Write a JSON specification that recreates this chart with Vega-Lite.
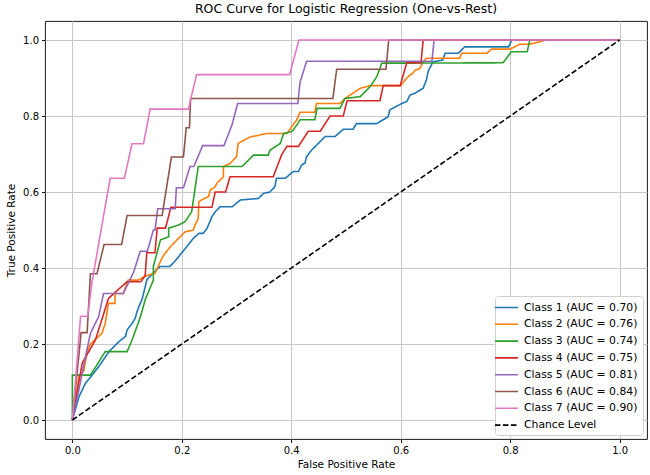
{
  "$schema": "https://vega.github.io/schema/vega-lite/v6.json",
  "width": 602,
  "height": 418,
  "autosize": "none",
  "padding": {"left": 45, "top": 21, "right": 3, "bottom": 36},
  "title": {
    "text": "ROC Curve for Logistic Regression (One-vs-Rest)",
    "font": "DejaVu Sans",
    "fontSize": 12.5,
    "fontWeight": "normal",
    "color": "#000000",
    "offset": 6
  },
  "datasets": {
    "classes": [
      {"k": 1, "label": "Class 1 (AUC = 0.70)"},
      {"k": 2, "label": "Class 2 (AUC = 0.76)"},
      {"k": 3, "label": "Class 3 (AUC = 0.74)"},
      {"k": 4, "label": "Class 4 (AUC = 0.75)"},
      {"k": 5, "label": "Class 5 (AUC = 0.81)"},
      {"k": 6, "label": "Class 6 (AUC = 0.84)"},
      {"k": 7, "label": "Class 7 (AUC = 0.90)"},
      {"k": 8, "label": "Chance Level"}
    ]
  },
  "data": {
    "values": [
      {"k": 1, "i": 0, "fpr": 0, "tpr": 0},
      {"k": 1, "i": 1, "fpr": 0.012, "tpr": 0.061},
      {"k": 1, "i": 2, "fpr": 0.024, "tpr": 0.097},
      {"k": 1, "i": 3, "fpr": 0.036, "tpr": 0.118},
      {"k": 1, "i": 4, "fpr": 0.048, "tpr": 0.14},
      {"k": 1, "i": 5, "fpr": 0.067, "tpr": 0.18},
      {"k": 1, "i": 6, "fpr": 0.085, "tpr": 0.206},
      {"k": 1, "i": 7, "fpr": 0.097, "tpr": 0.22},
      {"k": 1, "i": 8, "fpr": 0.1, "tpr": 0.237},
      {"k": 1, "i": 9, "fpr": 0.109, "tpr": 0.254},
      {"k": 1, "i": 10, "fpr": 0.115, "tpr": 0.268},
      {"k": 1, "i": 11, "fpr": 0.118, "tpr": 0.285},
      {"k": 1, "i": 12, "fpr": 0.124, "tpr": 0.307},
      {"k": 1, "i": 13, "fpr": 0.127, "tpr": 0.316},
      {"k": 1, "i": 14, "fpr": 0.133, "tpr": 0.35},
      {"k": 1, "i": 15, "fpr": 0.136, "tpr": 0.368},
      {"k": 1, "i": 16, "fpr": 0.139, "tpr": 0.374},
      {"k": 1, "i": 17, "fpr": 0.16, "tpr": 0.404},
      {"k": 1, "i": 18, "fpr": 0.178, "tpr": 0.404},
      {"k": 1, "i": 19, "fpr": 0.187, "tpr": 0.417},
      {"k": 1, "i": 20, "fpr": 0.209, "tpr": 0.456},
      {"k": 1, "i": 21, "fpr": 0.221, "tpr": 0.478},
      {"k": 1, "i": 22, "fpr": 0.231, "tpr": 0.491},
      {"k": 1, "i": 23, "fpr": 0.239, "tpr": 0.491},
      {"k": 1, "i": 24, "fpr": 0.246, "tpr": 0.504},
      {"k": 1, "i": 25, "fpr": 0.255, "tpr": 0.535},
      {"k": 1, "i": 26, "fpr": 0.261, "tpr": 0.548},
      {"k": 1, "i": 27, "fpr": 0.27, "tpr": 0.561},
      {"k": 1, "i": 28, "fpr": 0.292, "tpr": 0.561},
      {"k": 1, "i": 29, "fpr": 0.307, "tpr": 0.579},
      {"k": 1, "i": 30, "fpr": 0.34, "tpr": 0.583},
      {"k": 1, "i": 31, "fpr": 0.349, "tpr": 0.596},
      {"k": 1, "i": 32, "fpr": 0.361, "tpr": 0.6},
      {"k": 1, "i": 33, "fpr": 0.37, "tpr": 0.614},
      {"k": 1, "i": 34, "fpr": 0.373, "tpr": 0.636},
      {"k": 1, "i": 35, "fpr": 0.389, "tpr": 0.636},
      {"k": 1, "i": 36, "fpr": 0.404, "tpr": 0.654},
      {"k": 1, "i": 37, "fpr": 0.413, "tpr": 0.654},
      {"k": 1, "i": 38, "fpr": 0.419, "tpr": 0.671},
      {"k": 1, "i": 39, "fpr": 0.425, "tpr": 0.676},
      {"k": 1, "i": 40, "fpr": 0.428, "tpr": 0.693},
      {"k": 1, "i": 41, "fpr": 0.437, "tpr": 0.71},
      {"k": 1, "i": 42, "fpr": 0.462, "tpr": 0.746},
      {"k": 1, "i": 43, "fpr": 0.48, "tpr": 0.746},
      {"k": 1, "i": 44, "fpr": 0.495, "tpr": 0.765},
      {"k": 1, "i": 45, "fpr": 0.513, "tpr": 0.765},
      {"k": 1, "i": 46, "fpr": 0.519, "tpr": 0.78},
      {"k": 1, "i": 47, "fpr": 0.556, "tpr": 0.78},
      {"k": 1, "i": 48, "fpr": 0.577, "tpr": 0.798},
      {"k": 1, "i": 49, "fpr": 0.58, "tpr": 0.816},
      {"k": 1, "i": 50, "fpr": 0.602, "tpr": 0.833},
      {"k": 1, "i": 51, "fpr": 0.611, "tpr": 0.838},
      {"k": 1, "i": 52, "fpr": 0.617, "tpr": 0.855},
      {"k": 1, "i": 53, "fpr": 0.626, "tpr": 0.86},
      {"k": 1, "i": 54, "fpr": 0.641, "tpr": 0.873},
      {"k": 1, "i": 55, "fpr": 0.647, "tpr": 0.895},
      {"k": 1, "i": 56, "fpr": 0.65, "tpr": 0.917},
      {"k": 1, "i": 57, "fpr": 0.659, "tpr": 0.943},
      {"k": 1, "i": 58, "fpr": 0.677, "tpr": 0.947},
      {"k": 1, "i": 59, "fpr": 0.681, "tpr": 0.965},
      {"k": 1, "i": 60, "fpr": 0.705, "tpr": 0.965},
      {"k": 1, "i": 61, "fpr": 0.717, "tpr": 0.982},
      {"k": 1, "i": 62, "fpr": 0.797, "tpr": 0.982},
      {"k": 1, "i": 63, "fpr": 0.803, "tpr": 1.0},
      {"k": 1, "i": 64, "fpr": 1.0, "tpr": 1.0},

      {"k": 2, "i": 0, "fpr": 0, "tpr": 0},
      {"k": 2, "i": 1, "fpr": 0.012, "tpr": 0.114},
      {"k": 2, "i": 2, "fpr": 0.021, "tpr": 0.13},
      {"k": 2, "i": 3, "fpr": 0.027, "tpr": 0.18},
      {"k": 2, "i": 4, "fpr": 0.033, "tpr": 0.2},
      {"k": 2, "i": 5, "fpr": 0.054, "tpr": 0.228},
      {"k": 2, "i": 6, "fpr": 0.06, "tpr": 0.254},
      {"k": 2, "i": 7, "fpr": 0.066, "tpr": 0.307},
      {"k": 2, "i": 8, "fpr": 0.078, "tpr": 0.307},
      {"k": 2, "i": 9, "fpr": 0.078, "tpr": 0.333},
      {"k": 2, "i": 10, "fpr": 0.093, "tpr": 0.333},
      {"k": 2, "i": 11, "fpr": 0.102, "tpr": 0.368},
      {"k": 2, "i": 12, "fpr": 0.12, "tpr": 0.368},
      {"k": 2, "i": 13, "fpr": 0.136, "tpr": 0.38},
      {"k": 2, "i": 14, "fpr": 0.151, "tpr": 0.386},
      {"k": 2, "i": 15, "fpr": 0.165, "tpr": 0.43},
      {"k": 2, "i": 16, "fpr": 0.179, "tpr": 0.456},
      {"k": 2, "i": 17, "fpr": 0.194, "tpr": 0.478},
      {"k": 2, "i": 18, "fpr": 0.206, "tpr": 0.495},
      {"k": 2, "i": 19, "fpr": 0.221, "tpr": 0.5},
      {"k": 2, "i": 20, "fpr": 0.224, "tpr": 0.513},
      {"k": 2, "i": 21, "fpr": 0.23, "tpr": 0.53},
      {"k": 2, "i": 22, "fpr": 0.231, "tpr": 0.574},
      {"k": 2, "i": 23, "fpr": 0.237, "tpr": 0.58},
      {"k": 2, "i": 24, "fpr": 0.249, "tpr": 0.588},
      {"k": 2, "i": 25, "fpr": 0.252, "tpr": 0.605},
      {"k": 2, "i": 26, "fpr": 0.261, "tpr": 0.614},
      {"k": 2, "i": 27, "fpr": 0.264, "tpr": 0.623},
      {"k": 2, "i": 28, "fpr": 0.276, "tpr": 0.64},
      {"k": 2, "i": 29, "fpr": 0.276, "tpr": 0.667},
      {"k": 2, "i": 30, "fpr": 0.288, "tpr": 0.675},
      {"k": 2, "i": 31, "fpr": 0.3, "tpr": 0.693},
      {"k": 2, "i": 32, "fpr": 0.303, "tpr": 0.728},
      {"k": 2, "i": 33, "fpr": 0.325, "tpr": 0.745},
      {"k": 2, "i": 34, "fpr": 0.343, "tpr": 0.75},
      {"k": 2, "i": 35, "fpr": 0.355, "tpr": 0.754},
      {"k": 2, "i": 36, "fpr": 0.392, "tpr": 0.754},
      {"k": 2, "i": 37, "fpr": 0.41, "tpr": 0.79},
      {"k": 2, "i": 38, "fpr": 0.416, "tpr": 0.81},
      {"k": 2, "i": 39, "fpr": 0.443, "tpr": 0.81},
      {"k": 2, "i": 40, "fpr": 0.446, "tpr": 0.833},
      {"k": 2, "i": 41, "fpr": 0.489, "tpr": 0.833},
      {"k": 2, "i": 42, "fpr": 0.498, "tpr": 0.846},
      {"k": 2, "i": 43, "fpr": 0.526, "tpr": 0.873},
      {"k": 2, "i": 44, "fpr": 0.544, "tpr": 0.88},
      {"k": 2, "i": 45, "fpr": 0.6, "tpr": 0.88},
      {"k": 2, "i": 46, "fpr": 0.608, "tpr": 0.895},
      {"k": 2, "i": 47, "fpr": 0.617, "tpr": 0.908},
      {"k": 2, "i": 48, "fpr": 0.622, "tpr": 0.912},
      {"k": 2, "i": 49, "fpr": 0.626, "tpr": 0.92},
      {"k": 2, "i": 50, "fpr": 0.635, "tpr": 0.925},
      {"k": 2, "i": 51, "fpr": 0.641, "tpr": 0.943},
      {"k": 2, "i": 52, "fpr": 0.647, "tpr": 0.952},
      {"k": 2, "i": 53, "fpr": 0.708, "tpr": 0.952},
      {"k": 2, "i": 54, "fpr": 0.711, "tpr": 0.965},
      {"k": 2, "i": 55, "fpr": 0.757, "tpr": 0.965},
      {"k": 2, "i": 56, "fpr": 0.766, "tpr": 0.976},
      {"k": 2, "i": 57, "fpr": 0.8, "tpr": 0.976},
      {"k": 2, "i": 58, "fpr": 0.818, "tpr": 0.989},
      {"k": 2, "i": 59, "fpr": 0.836, "tpr": 0.989},
      {"k": 2, "i": 60, "fpr": 0.866, "tpr": 1.0},
      {"k": 2, "i": 61, "fpr": 1.0, "tpr": 1.0},

      {"k": 3, "i": 0, "fpr": 0, "tpr": 0},
      {"k": 3, "i": 1, "fpr": 0, "tpr": 0.118},
      {"k": 3, "i": 2, "fpr": 0.033, "tpr": 0.118},
      {"k": 3, "i": 3, "fpr": 0.045, "tpr": 0.145},
      {"k": 3, "i": 4, "fpr": 0.06, "tpr": 0.18},
      {"k": 3, "i": 5, "fpr": 0.1, "tpr": 0.18},
      {"k": 3, "i": 6, "fpr": 0.109, "tpr": 0.21},
      {"k": 3, "i": 7, "fpr": 0.124, "tpr": 0.27},
      {"k": 3, "i": 8, "fpr": 0.133, "tpr": 0.316},
      {"k": 3, "i": 9, "fpr": 0.148, "tpr": 0.368},
      {"k": 3, "i": 10, "fpr": 0.148, "tpr": 0.404},
      {"k": 3, "i": 11, "fpr": 0.161, "tpr": 0.474},
      {"k": 3, "i": 12, "fpr": 0.176, "tpr": 0.482},
      {"k": 3, "i": 13, "fpr": 0.176, "tpr": 0.505},
      {"k": 3, "i": 14, "fpr": 0.194, "tpr": 0.513},
      {"k": 3, "i": 15, "fpr": 0.206, "tpr": 0.522},
      {"k": 3, "i": 16, "fpr": 0.218, "tpr": 0.548},
      {"k": 3, "i": 17, "fpr": 0.23, "tpr": 0.667},
      {"k": 3, "i": 18, "fpr": 0.31, "tpr": 0.667},
      {"k": 3, "i": 19, "fpr": 0.331, "tpr": 0.697},
      {"k": 3, "i": 20, "fpr": 0.358, "tpr": 0.697},
      {"k": 3, "i": 21, "fpr": 0.361, "tpr": 0.71},
      {"k": 3, "i": 22, "fpr": 0.38, "tpr": 0.728},
      {"k": 3, "i": 23, "fpr": 0.386, "tpr": 0.754},
      {"k": 3, "i": 24, "fpr": 0.401, "tpr": 0.759},
      {"k": 3, "i": 25, "fpr": 0.41, "tpr": 0.776},
      {"k": 3, "i": 26, "fpr": 0.416, "tpr": 0.79},
      {"k": 3, "i": 27, "fpr": 0.443, "tpr": 0.79},
      {"k": 3, "i": 28, "fpr": 0.447, "tpr": 0.82},
      {"k": 3, "i": 29, "fpr": 0.489, "tpr": 0.82},
      {"k": 3, "i": 30, "fpr": 0.498, "tpr": 0.846},
      {"k": 3, "i": 31, "fpr": 0.526, "tpr": 0.851},
      {"k": 3, "i": 32, "fpr": 0.544, "tpr": 0.877},
      {"k": 3, "i": 33, "fpr": 0.556, "tpr": 0.903},
      {"k": 3, "i": 34, "fpr": 0.562, "tpr": 0.925},
      {"k": 3, "i": 35, "fpr": 0.565, "tpr": 0.939},
      {"k": 3, "i": 36, "fpr": 0.787, "tpr": 0.94},
      {"k": 3, "i": 37, "fpr": 0.802, "tpr": 0.969},
      {"k": 3, "i": 38, "fpr": 0.831, "tpr": 0.969},
      {"k": 3, "i": 39, "fpr": 0.836, "tpr": 1.0},
      {"k": 3, "i": 40, "fpr": 1.0, "tpr": 1.0},

      {"k": 4, "i": 0, "fpr": 0, "tpr": 0},
      {"k": 4, "i": 1, "fpr": 0.018, "tpr": 0.15},
      {"k": 4, "i": 2, "fpr": 0.042, "tpr": 0.21},
      {"k": 4, "i": 3, "fpr": 0.066, "tpr": 0.32},
      {"k": 4, "i": 4, "fpr": 0.1, "tpr": 0.364},
      {"k": 4, "i": 5, "fpr": 0.125, "tpr": 0.364},
      {"k": 4, "i": 6, "fpr": 0.133, "tpr": 0.38},
      {"k": 4, "i": 7, "fpr": 0.136, "tpr": 0.44},
      {"k": 4, "i": 8, "fpr": 0.151, "tpr": 0.44},
      {"k": 4, "i": 9, "fpr": 0.155, "tpr": 0.505},
      {"k": 4, "i": 10, "fpr": 0.17, "tpr": 0.505},
      {"k": 4, "i": 11, "fpr": 0.173, "tpr": 0.52},
      {"k": 4, "i": 12, "fpr": 0.18, "tpr": 0.56},
      {"k": 4, "i": 13, "fpr": 0.255, "tpr": 0.56},
      {"k": 4, "i": 14, "fpr": 0.261, "tpr": 0.6},
      {"k": 4, "i": 15, "fpr": 0.28, "tpr": 0.6},
      {"k": 4, "i": 16, "fpr": 0.288, "tpr": 0.64},
      {"k": 4, "i": 17, "fpr": 0.367, "tpr": 0.64},
      {"k": 4, "i": 18, "fpr": 0.383, "tpr": 0.7},
      {"k": 4, "i": 19, "fpr": 0.392, "tpr": 0.72},
      {"k": 4, "i": 20, "fpr": 0.413, "tpr": 0.72},
      {"k": 4, "i": 21, "fpr": 0.431, "tpr": 0.76},
      {"k": 4, "i": 22, "fpr": 0.453, "tpr": 0.76},
      {"k": 4, "i": 23, "fpr": 0.471, "tpr": 0.8},
      {"k": 4, "i": 24, "fpr": 0.495, "tpr": 0.8},
      {"k": 4, "i": 25, "fpr": 0.502, "tpr": 0.84},
      {"k": 4, "i": 26, "fpr": 0.562, "tpr": 0.84},
      {"k": 4, "i": 27, "fpr": 0.568, "tpr": 0.88},
      {"k": 4, "i": 28, "fpr": 0.599, "tpr": 0.88},
      {"k": 4, "i": 29, "fpr": 0.611, "tpr": 0.94},
      {"k": 4, "i": 30, "fpr": 0.637, "tpr": 0.94},
      {"k": 4, "i": 31, "fpr": 0.641, "tpr": 1.0},
      {"k": 4, "i": 32, "fpr": 1.0, "tpr": 1.0},

      {"k": 5, "i": 0, "fpr": 0, "tpr": 0},
      {"k": 5, "i": 1, "fpr": 0.012, "tpr": 0.08},
      {"k": 5, "i": 2, "fpr": 0.024, "tpr": 0.167},
      {"k": 5, "i": 3, "fpr": 0.033, "tpr": 0.228},
      {"k": 5, "i": 4, "fpr": 0.048, "tpr": 0.272},
      {"k": 5, "i": 5, "fpr": 0.057, "tpr": 0.333},
      {"k": 5, "i": 6, "fpr": 0.093, "tpr": 0.333},
      {"k": 5, "i": 7, "fpr": 0.112, "tpr": 0.389},
      {"k": 5, "i": 8, "fpr": 0.124, "tpr": 0.444},
      {"k": 5, "i": 9, "fpr": 0.137, "tpr": 0.444},
      {"k": 5, "i": 10, "fpr": 0.148, "tpr": 0.5},
      {"k": 5, "i": 11, "fpr": 0.151, "tpr": 0.5},
      {"k": 5, "i": 12, "fpr": 0.156, "tpr": 0.556},
      {"k": 5, "i": 13, "fpr": 0.188, "tpr": 0.556},
      {"k": 5, "i": 14, "fpr": 0.19, "tpr": 0.611},
      {"k": 5, "i": 15, "fpr": 0.203, "tpr": 0.611},
      {"k": 5, "i": 16, "fpr": 0.215, "tpr": 0.667},
      {"k": 5, "i": 17, "fpr": 0.222, "tpr": 0.667},
      {"k": 5, "i": 18, "fpr": 0.238, "tpr": 0.722},
      {"k": 5, "i": 19, "fpr": 0.277, "tpr": 0.722},
      {"k": 5, "i": 20, "fpr": 0.292, "tpr": 0.778},
      {"k": 5, "i": 21, "fpr": 0.302, "tpr": 0.833},
      {"k": 5, "i": 22, "fpr": 0.412, "tpr": 0.833},
      {"k": 5, "i": 23, "fpr": 0.416, "tpr": 0.889},
      {"k": 5, "i": 24, "fpr": 0.428, "tpr": 0.944},
      {"k": 5, "i": 25, "fpr": 0.657, "tpr": 0.944},
      {"k": 5, "i": 26, "fpr": 0.661, "tpr": 1.0},
      {"k": 5, "i": 27, "fpr": 1.0, "tpr": 1.0},

      {"k": 6, "i": 0, "fpr": 0, "tpr": 0},
      {"k": 6, "i": 1, "fpr": 0.016, "tpr": 0.23},
      {"k": 6, "i": 2, "fpr": 0.027, "tpr": 0.23},
      {"k": 6, "i": 3, "fpr": 0.033, "tpr": 0.385},
      {"k": 6, "i": 4, "fpr": 0.045, "tpr": 0.385},
      {"k": 6, "i": 5, "fpr": 0.058, "tpr": 0.462},
      {"k": 6, "i": 6, "fpr": 0.09, "tpr": 0.462},
      {"k": 6, "i": 7, "fpr": 0.1, "tpr": 0.538},
      {"k": 6, "i": 8, "fpr": 0.164, "tpr": 0.538},
      {"k": 6, "i": 9, "fpr": 0.181, "tpr": 0.692},
      {"k": 6, "i": 10, "fpr": 0.203, "tpr": 0.692},
      {"k": 6, "i": 11, "fpr": 0.208, "tpr": 0.769},
      {"k": 6, "i": 12, "fpr": 0.214, "tpr": 0.769},
      {"k": 6, "i": 13, "fpr": 0.216, "tpr": 0.846},
      {"k": 6, "i": 14, "fpr": 0.476, "tpr": 0.846},
      {"k": 6, "i": 15, "fpr": 0.483, "tpr": 0.923},
      {"k": 6, "i": 16, "fpr": 0.573, "tpr": 0.923},
      {"k": 6, "i": 17, "fpr": 0.578, "tpr": 1.0},
      {"k": 6, "i": 18, "fpr": 1.0, "tpr": 1.0},

      {"k": 7, "i": 0, "fpr": 0, "tpr": 0},
      {"k": 7, "i": 1, "fpr": 0.005, "tpr": 0.09},
      {"k": 7, "i": 2, "fpr": 0.015, "tpr": 0.273},
      {"k": 7, "i": 3, "fpr": 0.028, "tpr": 0.273},
      {"k": 7, "i": 4, "fpr": 0.036, "tpr": 0.364},
      {"k": 7, "i": 5, "fpr": 0.069, "tpr": 0.636},
      {"k": 7, "i": 6, "fpr": 0.095, "tpr": 0.636},
      {"k": 7, "i": 7, "fpr": 0.109, "tpr": 0.727},
      {"k": 7, "i": 8, "fpr": 0.13, "tpr": 0.727},
      {"k": 7, "i": 9, "fpr": 0.142, "tpr": 0.818},
      {"k": 7, "i": 10, "fpr": 0.212, "tpr": 0.818},
      {"k": 7, "i": 11, "fpr": 0.227, "tpr": 0.909},
      {"k": 7, "i": 12, "fpr": 0.397, "tpr": 0.909},
      {"k": 7, "i": 13, "fpr": 0.414, "tpr": 1.0},
      {"k": 7, "i": 14, "fpr": 1.0, "tpr": 1.0},

      {"k": 8, "i": 0, "fpr": 0, "tpr": 0},
      {"k": 8, "i": 1, "fpr": 1.0, "tpr": 1.0}
    ]
  },
  "transform": [
    {"lookup": "k", "from": {"data": {"name": "classes"}, "key": "k", "fields": ["label"]}}
  ],
  "mark": {"type": "line", "strokeWidth": 1.6, "clip": true},
  "encoding": {
    "x": {
      "field": "fpr",
      "type": "quantitative",
      "scale": {"domain": [-0.05, 1.05], "nice": false, "zero": false},
      "axis": {"title": "False Positive Rate", "values": [0, 0.2, 0.4, 0.6, 0.8, 1.0], "format": ".1f", "titlePadding": 4}
    },
    "y": {
      "field": "tpr",
      "type": "quantitative",
      "scale": {"domain": [-0.05, 1.05], "nice": false, "zero": false},
      "axis": {"title": "True Positive Rate", "values": [0, 0.2, 0.4, 0.6, 0.8, 1.0], "format": ".1f", "titlePadding": 6}
    },
    "order": {"field": "i", "type": "quantitative"},
    "color": {
      "field": "label",
      "type": "nominal",
      "title": null,
      "scale": {
        "domain": ["Class 1 (AUC = 0.70)", "Class 2 (AUC = 0.76)", "Class 3 (AUC = 0.74)", "Class 4 (AUC = 0.75)", "Class 5 (AUC = 0.81)", "Class 6 (AUC = 0.84)", "Class 7 (AUC = 0.90)", "Chance Level"],
        "range": ["#1f77b4", "#ff7f0e", "#2ca02c", "#d62728", "#9467bd", "#8c564b", "#e377c2", "#000000"]
      }
    },
    "strokeDash": {
      "field": "label",
      "type": "nominal",
      "title": null,
      "scale": {
        "domain": ["Class 1 (AUC = 0.70)", "Class 2 (AUC = 0.76)", "Class 3 (AUC = 0.74)", "Class 4 (AUC = 0.75)", "Class 5 (AUC = 0.81)", "Class 6 (AUC = 0.84)", "Class 7 (AUC = 0.90)", "Chance Level"],
        "range": [[1, 0], [1, 0], [1, 0], [1, 0], [1, 0], [1, 0], [1, 0], [5.5, 2.5]]
      }
    }
  },
  "config": {
    "font": "DejaVu Sans",
    "view": {"stroke": "#000000", "strokeWidth": 0.9},
    "axis": {
      "labelFont": "DejaVu Sans",
      "labelFontSize": 10,
      "labelColor": "#000000",
      "titleFont": "DejaVu Sans",
      "titleFontSize": 10.5,
      "titleFontWeight": "normal",
      "titleColor": "#000000",
      "domain": false,
      "tickColor": "#000000",
      "tickSize": 3.5,
      "tickWidth": 0.9,
      "labelPadding": 3,
      "grid": true,
      "gridColor": "#c8c8c8",
      "gridWidth": 1
    },
    "legend": {
      "orient": "bottom-right",
      "offset": 4,
      "fillColor": "#ffffff",
      "strokeColor": "#d0d0d0",
      "cornerRadius": 3,
      "padding": 5,
      "symbolType": "M-2.2,0H2.2",
      "symbolSize": 110,
      "symbolStrokeWidth": 1.6,
      "labelFont": "DejaVu Sans",
      "labelFontSize": 10.8,
      "labelColor": "#000000",
      "rowPadding": 4.8,
      "labelOffset": 11,
      "labelLimit": 300
    }
  }
}
